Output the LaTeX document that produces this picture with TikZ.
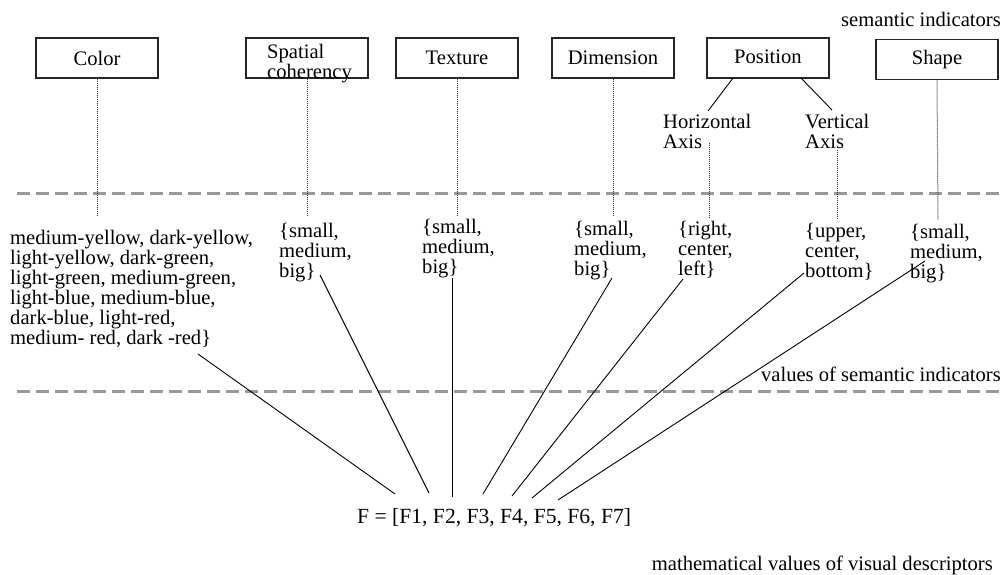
\documentclass[tikz,border=0pt]{standalone}
\usepackage{fontspec}
\setmainfont{Liberation Serif}
\begin{document}
\begin{tikzpicture}[x=1pt,y=-1pt,
  txt/.style={font=\fontsize{20.6}{20}\selectfont, inner sep=0pt, align=left, text=black},
  box/.style={draw=black!85, line width=1.5pt, minimum width=122pt, minimum height=40pt, inner sep=0pt, font=\fontsize{20.6}{20}\selectfont, text=black},
  dotline/.style={draw=black!80, line width=1pt, dash pattern=on 1pt off 1pt},
  sepline/.style={draw=black!40, line width=3pt, dash pattern=on 13pt off 6pt},
  conn/.style={draw=black, line width=0.9pt}]
\useasboundingbox (0,0) rectangle (1002,574);
% separators
\coordinate (s1a) at (17,193); \coordinate (s1b) at (1010,193);
\coordinate (s2a) at (17,391); \coordinate (s2b) at (1010,391);
\draw[sepline] (s1a) -- (s1b);
\draw[sepline] (s2a) -- (s2b);
% boxes
\node[box] (color) at (97,58) {Color};
\node[box] (spatial) at (307,58) {};
\node[txt, anchor=north west, font=\fontsize{20.6}{18}\selectfont] (spatialtxt) at (267,44) {Spatial\\coherency};
\node[box] (texture) at (457,58) {Texture};
\node[box] (dimension) at (613,58) {Dimension};
\node[box] (position) at (768,58) {\raisebox{2pt}{Position}};
\node[box] (shape) at (937,59.5) {Shape};
\node[txt, anchor=base east] (semind) at (1001,26) {semantic indicators};
% axes
\node[txt, anchor=north west] (haxis) at (663,114) {Horizontal\\Axis};
\node[txt, anchor=north west] (vaxis) at (805,114) {Vertical\\Axis};
\coordinate (p1) at (733,78); \coordinate (h1) at (708,111);
\coordinate (p2) at (801,78); \coordinate (v1) at (832,110);
\draw[conn] (p1) -- (h1);
\draw[conn] (p2) -- (v1);
% dotted lines
\coordinate (dc) at (97,215);
\coordinate (ds) at (307,215);
\coordinate (dt) at (457,215);
\coordinate (dd) at (613,215);
\coordinate (hh) at (709,143); \coordinate (dh) at (709,218);
\coordinate (vv) at (837,150); \coordinate (dv) at (837,220);
\coordinate (dsh) at (938,220);
\draw[dotline] (color.south) -- (dc);
\draw[dotline] (spatial.south) -- (ds);
\draw[dotline] (texture.south) -- (dt);
\draw[dotline] (dimension.south) -- (dd);
\draw[dotline] (hh) -- (dh);
\draw[dotline] (vv) -- (dv);
\draw[dotline] (shape.south) -- (dsh);
% values
\node[txt, anchor=north west] (colv) at (10,230) {medium-yellow, dark-yellow,\\light-yellow, dark-green,\\light-green, medium-green,\\light-blue, medium-blue,\\dark-blue, light-red,\\medium- red, dark -red\}};
\node[txt, anchor=north west] (spav) at (279,223) {\{small,\\medium,\\big\}};
\node[txt, anchor=north west] (texv) at (422,219) {\{small,\\medium,\\big\}};
\node[txt, anchor=north west] (dimv) at (574,221) {\{small,\\medium,\\big\}};
\node[txt, anchor=north west] (posh) at (678,221) {\{right,\\center,\\left\}};
\node[txt, anchor=north west] (posv) at (805,223) {\{upper,\\center,\\bottom\}};
\node[txt, anchor=north west] (shav) at (910,224) {\{small,\\medium,\\big\}};
\node[txt, anchor=base east] (valsem) at (1001,381) {values of semantic indicators};
% F vector
\node[txt, anchor=base west, font=\fontsize{21.6}{20}\selectfont] (F) at (357,523) {F = [F1, F2, F3, F4, F5, F6, F7]};
\node[txt, anchor=base east] (math) at (993,570) {mathematical values of visual descriptors};
% connectors
\coordinate (t1) at (198,354); \coordinate (b1) at (395,494);
\coordinate (t2) at (320,275); \coordinate (b2) at (429,493);
\coordinate (t3) at (452,278); \coordinate (b3) at (452,497);
\coordinate (t4) at (612,278); \coordinate (b4) at (483,494);
\coordinate (t5) at (683,279); \coordinate (b5) at (512,496);
\coordinate (t6) at (804,273); \coordinate (b6) at (532,498);
\coordinate (t7) at (925,261); \coordinate (b7) at (558,500);
\foreach \i in {1,...,7} {\draw[conn] (t\i) -- (b\i);}
\end{tikzpicture}
\end{document}
